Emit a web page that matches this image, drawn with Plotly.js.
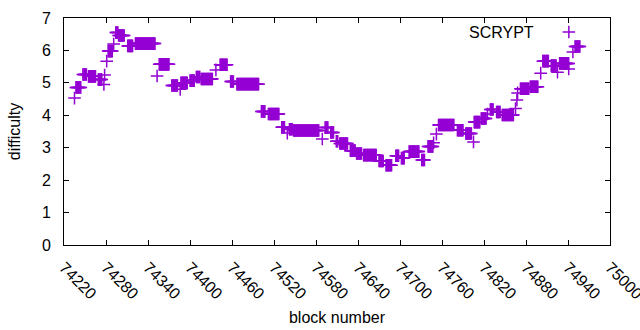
<!DOCTYPE html>
<html><head><meta charset="utf-8">
<script src="https://cdn.plot.ly/plotly-3.0.1.min.js"></script>
<style>html,body{margin:0;padding:0;background:#fff}#chart{width:640px;height:330px}</style>
</head><body><div id="chart"></div>
<script>
// Runs of constant difficulty: first block, last block, difficulty
var runStart = [74235,74237,74247,74255,74269,74277,74278,74281,74283,74291,74294,74298,74311,74322,74353,74356,74374,74386,74387,74400,74409,74416,74437,74443,74458,74467,74502,74512,74531,74539,74542,74548,74589,74593,74601,74609,74614,74629,74638,74648,74670,74680,74694,74702,74713,74731,74740,74748,74752,74755,74782,74794,74805,74806,74816,74825,74829,74838,74846,74865,74867,74868,74872,74886,74901,74904,74916,74925,74928,74941,74947,74950];
var runEnd   = [74235,74244,74252,74265,74274,74277,74278,74281,74289,74291,74297,74306,74318,74350,74353,74370,74382,74386,74396,74406,74414,74432,74437,74453,74462,74498,74507,74527,74535,74539,74546,74584,74589,74597,74605,74611,74625,74636,74645,74666,74676,74688,74698,74706,74727,74735,74747,74748,74752,74777,74790,74802,74805,74814,74823,74825,74833,74843,74862,74865,74867,74868,74884,74897,74901,74912,74923,74925,74941,74941,74947,74957];
var runValue = [4.53,4.86,5.26,5.20,5.10,4.95,5.24,5.67,5.98,6.20,6.55,6.46,6.14,6.21,5.21,5.57,4.92,4.80,5.00,5.07,5.18,5.12,5.40,5.56,5.04,4.96,4.12,4.04,3.63,3.45,3.57,3.53,3.27,3.62,3.47,3.20,3.13,2.91,2.82,2.77,2.59,2.46,2.75,2.68,2.88,2.62,3.04,3.15,3.42,3.70,3.54,3.44,3.18,3.79,3.90,4.04,4.18,4.10,4.01,4.21,4.47,4.69,4.82,4.88,5.30,5.67,5.53,5.33,5.60,5.43,5.95,6.12];
var xTicks = [74220,74280,74340,74400,74460,74520,74580,74640,74700,74760,74820,74880,74940,75000];
var yTicks = [0,1,2,3,4,5,6,7];
var seriesName = "SCRYPT";

var blocks = [], diff = [];
for (var i = 0; i < runStart.length; i++) {
  for (var b = runStart[i]; b <= runEnd[i]; b++) { blocks.push(b); diff.push(runValue[i]); }
}
var font = "Liberation Sans, Arial, sans-serif";
var trace = {
  x: blocks, y: diff, type: "scatter", mode: "markers", name: " ",
  marker: {symbol: "cross-thin-open", size: 9, color: "#9400d3", line: {color: "#9400d3", width: 1.5}},
  showlegend: true
};
var layout = {
  width: 640, height: 330,
  margin: {l: 64, r: 30, t: 18, b: 85},
  paper_bgcolor: "#fff", plot_bgcolor: "#fff",
  font: {family: font, size: 16, color: "#000"},
  xaxis: {range: [74220, 75000], tickvals: xTicks, ticktext: xTicks.map(String), tickangle: 45,
    ticks: "inside", ticklen: 5, tickcolor: "#000", showline: true, linecolor: "#000", linewidth: 1,
    mirror: "ticks", showgrid: false, zeroline: false, ticklabelstandoff: 6, ticklabeloverflow: "allow",
    tickfont: {family: font, size: 16},
    title: {text: "block number", font: {family: font, size: 16}, standoff: 10}},
  yaxis: {range: [0, 7], tickvals: yTicks, ticks: "inside", ticklen: 5, tickcolor: "#000",
    showline: true, linecolor: "#000", linewidth: 1, mirror: "ticks", showgrid: false, zeroline: false,
    ticklabelstandoff: 9, tickfont: {family: font, size: 16},
    title: {text: "difficulty", font: {family: font, size: 16}, standoff: 17}},
  showlegend: true,
  legend: {x: 0.888, y: 0.938, xanchor: "left", yanchor: "middle", bgcolor: "rgba(0,0,0,0)", font: {size: 16}, itemwidth: 30, borderwidth: 0},
  annotations: [{text: seriesName, xref: "paper", yref: "paper", x: 0.8645, y: 0.938, xanchor: "right", yanchor: "middle", showarrow: false, font: {family: font, size: 16}}]
};
Plotly.newPlot("chart", [trace], layout, {displayModeBar: false, staticPlot: true});
</script></body></html>
